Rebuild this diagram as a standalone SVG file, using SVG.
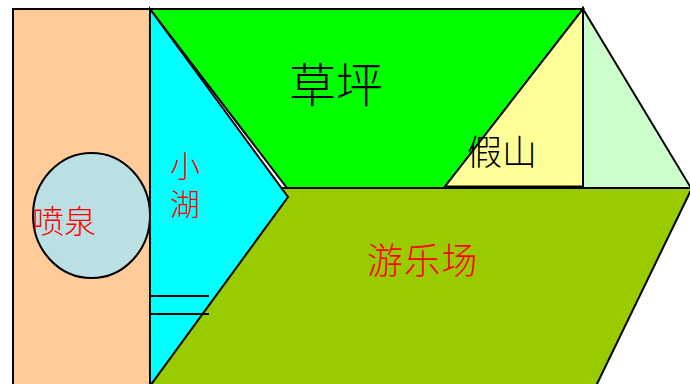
<svg xmlns="http://www.w3.org/2000/svg" width="690" height="384" viewBox="0 0 690 384">
<style>
.s{stroke:#000;stroke-width:2;stroke-linejoin:miter}
text{font-family:"Liberation Serif","Noto Sans CJK SC",serif;font-weight:300}
.r{fill:#f00}
</style>
<rect width="690" height="384" fill="#fff"/>
<g id="peach"><path class="s" fill="#ffcc99" d="M13 9H150V386H13Z"/></g>
<g id="lawn"><path class="s" fill="#00ff00" d="M150 9H583L445 188H287Z"/><text x="289" y="102" font-size="47">草坪</text></g>
<g id="playground"><path class="s" fill="#99cc00" d="M283 188H692L596 386H150Z"/><text class="r" x="367" y="274" font-size="36" letter-spacing="1.300">游乐场</text></g>
<g id="lake"><path class="s" fill="#00ffff" d="M150 9L288 197L150 386Z"/><text class="r" font-size="30"><tspan x="170" y="177">小</tspan><tspan x="170" y="215">湖</tspan></text></g>
<g id="hill"><path class="s" fill="#ffff99" d="M583 9V186.500H445Z"/><text x="467" y="165" font-size="35">假山</text></g>
<g id="mint"><path class="s" fill="#ccffcc" d="M583 9L691 188H583Z"/></g>
<g id="fountain"><ellipse class="s" fill="#bbe0e3" cx="91.500" cy="215.500" rx="58.500" ry="62.500"/><text class="r" x="32" y="233" font-size="32">喷泉</text></g>
<g id="connectors"><path class="s" fill="none" d="M150 296H209M150 314H209"/></g>
</svg>
